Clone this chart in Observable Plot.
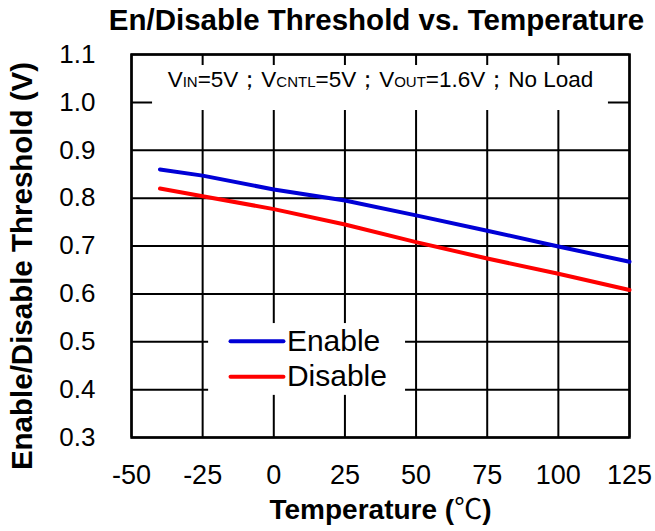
<!DOCTYPE html>
<html>
<head>
<meta charset="utf-8">
<script src="https://cdn.jsdelivr.net/npm/d3@7"></script>
<script src="https://cdn.jsdelivr.net/npm/@observablehq/plot@0.6"></script>
<style>
  html, body { margin: 0; padding: 0; background: white; }
</style>
</head>
<body>
<div id="chart"></div>
<script>
// ---- data ----
const temps   = [-40, -25, 0, 25, 50, 75, 100, 125];
const enable  = [0.860, 0.847, 0.818, 0.795, 0.764, 0.732, 0.699, 0.667];
const disable = [0.820, 0.804, 0.777, 0.745, 0.708, 0.674, 0.642, 0.608];
const seriesNames = ["Enable", "Disable"];
const seriesColors = ["#0000d6", "#ff0000"];
const xTicks = [-50, -25, 0, 25, 50, 75, 100, 125];
const yTicks = [0.3, 0.4, 0.5, 0.6, 0.7, 0.8, 0.9, 1.0, 1.1];
const titleText = "En/Disable Threshold vs. Temperature";
const xLabelParts = [["Temperature (", false], ["\u2103", true], [")", false]];
const yLabel = "Enable/Disable Threshold (V)";
const noteParts = [["V", false], ["IN", true], ["=5V\uFF1BV", false], ["CNTL", true], ["=5V\uFF1BV", false], ["OUT", true], ["=1.6V\uFF1BNo Load", false]];

// ---- layout (white boxes behind annotation & legend, legend placement) ----
const layout = {
  noteBox: {x1: -42.6, x2: 117.6, y1: 0.983, y2: 1.077},
  legendBox: {x1: -22.9, x2: 46.3, y1: 0.388, y2: 0.538},
  legendX1: -15.2, legendX2: 3.4, legendTextX: 4.6,
  legendY: [0.501, 0.427]
};

const rows = temps.flatMap((t, i) => [
  {t, v: enable[i], s: "Enable"},
  {t, v: disable[i], s: "Disable"}
]);
const noteText = noteParts.map(d => d[0]).join("");
const xLabel = xLabelParts.map(d => d[0]).join("");

const chart = Plot.plot({
  width: 655, height: 531,
  marginLeft: 131, marginRight: 26, marginTop: 54, marginBottom: 94,
  style: {fontFamily: "'Liberation Sans', Arial, sans-serif", background: "white", color: "black"},
  x: {domain: [-50, 125]},
  y: {domain: [0.3, 1.1]},
  color: {domain: seriesNames, range: seriesColors},
  marks: [
    Plot.gridX(xTicks, {stroke: "black", strokeOpacity: 1, strokeWidth: 2}),
    Plot.gridY(yTicks, {stroke: "black", strokeOpacity: 1, strokeWidth: 2}),
    Plot.rect([layout.noteBox], {x1: "x1", x2: "x2", y1: "y1", y2: "y2", fill: "white"}),
    Plot.rect([layout.legendBox], {x1: "x1", x2: "x2", y1: "y1", y2: "y2", fill: "white"}),
    Plot.frame({stroke: "black", strokeWidth: 2.5}),
    Plot.line(rows, {x: "t", y: "v", stroke: "s", z: "s", strokeWidth: 4, strokeLinecap: "round", strokeLinejoin: "round"}),
    Plot.axisX(xTicks, {tickSize: 0, tickPadding: 27, fontSize: 27, tickFormat: d => String(d), label: null}),
    Plot.axisY(yTicks, {tickSize: 0, tickPadding: 36, fontSize: 26, tickFormat: d => d.toFixed(1), label: null}),
    Plot.text([titleText], {frameAnchor: "top", dx: -4, dy: -34, fontSize: 29.5, fontWeight: "bold", lineAnchor: "middle"}),
    Plot.text([xLabel], {frameAnchor: "bottom", dy: 73, fontSize: 28, fontWeight: "bold", lineAnchor: "middle"}),
    Plot.text([yLabel], {frameAnchor: "left", dx: -109, dy: 20, rotate: -90, fontSize: 29.5, fontWeight: "bold", textAnchor: "middle", lineAnchor: "middle"}),
    Plot.text([noteText], {frameAnchor: "top", dy: 25, fontSize: 22.5, lineAnchor: "middle"}),
    Plot.link(seriesNames, {x1: () => layout.legendX1, x2: () => layout.legendX2, y1: (d, i) => layout.legendY[i], y2: (d, i) => layout.legendY[i], stroke: d => d, strokeWidth: 4, strokeLinecap: "round"}),
    Plot.text(seriesNames, {x: () => layout.legendTextX, y: (d, i) => layout.legendY[i], text: d => d, textAnchor: "start", fontSize: 30, lineAnchor: "middle"})
  ]
});

// subscripts in the annotation, CJK glyph for the degree sign
const svg = d3.select(chart);
svg.selectAll("text").filter(function() { return this.textContent === noteText; })
  .each(function() {
    const t = d3.select(this);
    t.text(null);
    noteParts.forEach(([s, sub]) => {
      t.append("tspan").attr("font-size", sub ? 15 : null).text(s);
    });
  });
svg.selectAll("text").filter(function() { return this.textContent === xLabel; })
  .each(function() {
    const t = d3.select(this);
    t.text(null);
    xLabelParts.forEach(([s, cjk]) => {
      const sp = t.append("tspan").text(s);
      if (cjk) sp.attr("font-family", "'Noto Sans CJK JP', 'Noto Sans CJK SC', sans-serif").attr("font-weight", "normal");
    });
  });

document.getElementById("chart").appendChild(chart);
</script>
</body>
</html>
